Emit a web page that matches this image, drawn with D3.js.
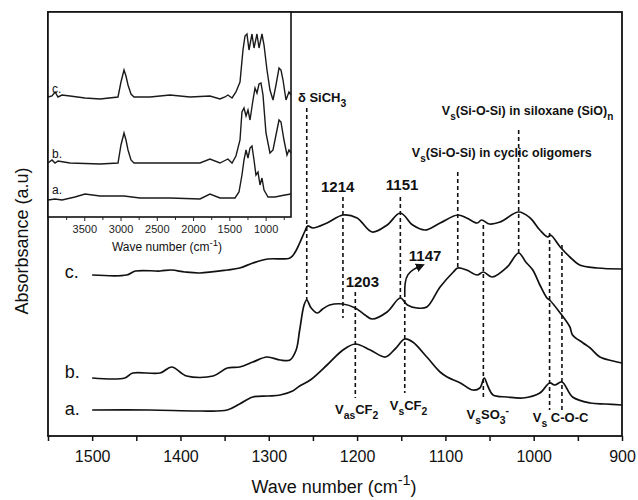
<!DOCTYPE html>
<html>
<head>
<meta charset="utf-8">
<script src="https://cdn.jsdelivr.net/npm/d3@7.9.0/dist/d3.min.js"></script>
<style>
  body { margin: 0; background: #fff; }
  svg { font-family: Arial, "Liberation Sans", sans-serif; }
</style>
</head>
<body>
<svg id="chart" width="638" height="500"></svg>
<script>
// main spectra, [wavenumber, absorbance (a.u., stacked)]
const specA = [[1500,26],[1435,26],[1378,25],[1347,26],[1333,32],[1318,39],[1301,40],[1287,41],[1273,45],[1265,50],[1253,56],[1234,71],[1216,86],[1202,92],[1185,86],[1168,79],[1157,87],[1146,97],[1137,94],[1121,79],[1106,64],[1098,59],[1083,53],[1069,46],[1061,48],[1056,58],[1052,50],[1046,41],[1030,39],[1012,38],[993,43],[982,53],[976,51],[968,54],[956,39],[936,33],[919,32],[900,31]];
const specB = [[1500,58],[1463,58],[1454,63],[1423,63],[1410,69],[1393,60],[1363,60],[1347,68],[1333,69],[1318,74],[1302,79],[1287,76],[1276,76],[1269,86],[1265,106],[1260,131],[1257,136],[1252,128],[1245,123],[1239,127],[1231,131],[1216,132],[1202,128],[1191,121],[1183,117],[1166,124],[1151,138],[1143,131],[1132,128],[1121,129],[1106,149],[1091,164],[1086,168],[1076,166],[1064,161],[1057,164],[1047,159],[1030,169],[1017,183],[1009,174],[1001,166],[993,151],[985,138],[982,136],[970,123],[959,109],[956,101],[944,93],[936,88],[925,79],[910,75],[900,73]];
const specC = [[1500,161],[1461,161],[1451,165],[1423,165],[1410,166],[1395,164],[1378,163],[1347,166],[1333,168],[1318,173],[1301,177],[1276,178],[1270,184],[1265,193],[1259,205],[1256,210],[1250,208],[1234,213],[1216,221],[1200,218],[1183,204],[1166,211],[1151,223],[1137,211],[1123,206],[1106,213],[1086,221],[1076,218],[1064,213],[1059,216],[1050,212],[1038,214],[1017,224],[1004,218],[993,206],[984,199],[981,201],[970,189],[959,179],[948,171],[928,168],[900,167]];

// inset spectra (full range)
const insetA = [[4000,17],[3903,18],[3807,17],[3628,20],[3490,23],[3283,21],[2952,21],[2732,19],[2318,19],[1905,18],[1767,23],[1629,19],[1422,19],[1367,25],[1326,42],[1298,57],[1270,67],[1243,59],[1215,69],[1188,71],[1160,57],[1133,42],[1105,45],[1077,32],[1050,39],[1022,27],[967,20],[871,20],[733,22],[650,23]];
const insetB = [[4000,54],[3945,57],[3903,54],[3862,56],[3697,54],[3283,53],[3035,54],[2994,72],[2952,84],[2925,77],[2897,67],[2856,57],[2814,54],[2318,54],[1905,54],[1767,58],[1629,54],[1520,58],[1463,54],[1409,61],[1353,77],[1326,105],[1298,109],[1270,101],[1243,107],[1215,97],[1174,117],[1146,129],[1119,124],[1091,133],[1064,134],[1036,122],[995,84],[940,64],[898,67],[857,82],[815,97],[788,95],[747,77],[705,62],[678,67],[650,64]];
const insetC = [[4000,120],[3945,121],[3903,125],[3862,120],[3807,122],[3697,121],[3490,119],[3283,118],[3035,120],[2994,135],[2952,147],[2925,141],[2897,132],[2856,123],[2814,120],[2594,120],[2318,122],[2042,120],[1767,121],[1629,118],[1560,120],[1520,122],[1463,119],[1409,125],[1353,135],[1312,167],[1284,181],[1257,183],[1229,167],[1188,183],[1160,169],[1119,183],[1091,169],[1050,183],[1022,172],[981,147],[940,127],[898,117],[857,132],[815,149],[788,147],[760,137],[719,117],[678,125],[650,122]];

const mainTicks = [1500, 1400, 1300, 1200, 1100, 1000, 900];
const mainMinor = [1550, 1450, 1350, 1250, 1150, 1050, 950];
const insetTicks = [3500, 3000, 2500, 2000, 1500, 1000];
const insetMinor = [3750, 3250, 2750, 2250, 1750, 1250, 750];

// dashed marker lines: [wavenumber, top, bottom]
const markers = [[1257,328,136],[1216,239,118],[1151,239,138],[1086,264,168],[1017,306,183],[1202,144,38],[1146,143,43],[1057,211,38],[982,203,26],[968,191,26]];
const arrowPts = [[1146,143],[1146,153],[1143,162],[1136,167],[1128,170]];

const svg = d3.select('#chart');
const plot = { left: 48, right: 622, top: 12, bottom: 436 };

const x = d3.scaleLinear().domain([1550, 900]).range([plot.left, plot.right]);
const y = d3.scaleLinear().domain([0, 424]).range([plot.bottom, plot.top]);

function richText(g, px, py, parts, size, anchor, weight) {
  const t = g.append('text').attr('x', px).attr('y', py)
    .attr('font-size', size).attr('text-anchor', anchor || 'start')
    .attr('font-weight', weight || 'normal').attr('fill', '#111');
  let shift = 0;
  parts.forEach(([s, kind]) => {
    const target = kind === 'sub' ? size * 0.42 : kind === 'sup' ? -size * 0.42 : 0;
    t.append('tspan').attr('dy', target - shift)
      .attr('font-size', kind ? size * 0.8 : size).text(s);
    shift = target;
  });
  return t;
}

const line = d3.line().x(d => x(d[0])).y(d => y(d[1])).curve(d3.curveCatmullRom.alpha(0.5));

// curves
[specA, specB, specC].forEach(s => {
  svg.append('path').datum(s).attr('d', line)
    .attr('fill', 'none').attr('stroke', '#111').attr('stroke-width', 1.7);
});

// dashed markers
svg.append('g').selectAll('line').data(markers).join('line')
  .attr('x1', d => x(d[0])).attr('x2', d => x(d[0]))
  .attr('y1', d => y(d[1])).attr('y2', d => y(d[2]))
  .attr('stroke', '#111').attr('stroke-width', 1.6).attr('stroke-dasharray', '4,3');

// arrow 1147
svg.append('defs').append('marker').attr('id', 'arr')
  .attr('viewBox', '0 0 10 10').attr('refX', 5).attr('refY', 5)
  .attr('markerWidth', 9).attr('markerHeight', 9).attr('markerUnits', 'userSpaceOnUse')
  .attr('orient', 'auto')
  .append('path').attr('d', 'M0,0 L10,5 L0,10 z').attr('fill', '#111');
svg.append('path').datum(arrowPts)
  .attr('d', d3.line().x(d => x(d[0])).y(d => y(d[1])).curve(d3.curveBasis))
  .attr('fill', 'none').attr('stroke', '#111').attr('stroke-width', 1.6)
  .attr('marker-end', 'url(#arr)');

// annotations
const ann = svg.append('g');
richText(ann, x(1267), y(334), [['δ ', null], ['SiCH', null], ['3', 'sub']], 13, 'start', 'bold');
richText(ann, x(1104), y(321), [['V', null], ['s', 'sub'], ['(Si-O-Si) in siloxane (SiO)', null], ['n', 'sub']], 12.5, 'start', 'bold');
richText(ann, x(1138), y(279), [['V', null], ['s', 'sub'], ['(Si-O-Si) in cyclic oligomers', null]], 12.5, 'start', 'bold');
richText(ann, x(1222), y(244), [['1214', null]], 15, 'middle', 'bold');
richText(ann, x(1149), y(246), [['1151', null]], 15, 'middle', 'bold');
richText(ann, x(1194), y(149), [['1203', null]], 15, 'middle', 'bold');
richText(ann, x(1123), y(175), [['1147', null]], 15, 'middle', 'bold');
richText(ann, x(1225), y(22), [['V', null], ['as', 'sub'], ['CF', null], ['2', 'sub']], 13, 'start', 'bold');
richText(ann, x(1163), y(26), [['V', null], ['s', 'sub'], ['CF', null], ['2', 'sub']], 13, 'start', 'bold');
richText(ann, x(1076), y(17), [['V', null], ['s', 'sub'], ['SO', null], ['3', 'sub'], ['-', 'sup']], 13, 'start', 'bold');
richText(ann, x(1001), y(14), [['V', null], ['s', 'sub'], [' C-O-C', null]], 13, 'start', 'bold');

// curve labels
[['c.', 158], ['b.', 58], ['a.', 21]].forEach(([t, h]) => {
  richText(svg, x(1531), y(h), [[t, null]], 18, 'start');
});

// main axis
const ax = svg.append('g').attr('transform', `translate(0,${plot.bottom})`);
ax.call(d3.axisBottom(x).tickValues(mainTicks).tickSize(5).tickPadding(10).tickFormat(d3.format('d')));
ax.append('g').call(d3.axisBottom(x).tickValues(mainMinor).tickSize(5).tickFormat(''));
ax.selectAll('.domain').remove();
ax.selectAll('line').attr('stroke', '#111').attr('stroke-width', 1.5);
ax.selectAll('text').attr('font-size', 16).attr('fill', '#111').attr('font-family', 'Arial, "Liberation Sans", sans-serif');

svg.append('rect').attr('x', plot.left).attr('y', plot.top)
  .attr('width', plot.right - plot.left).attr('height', plot.bottom - plot.top)
  .attr('fill', 'none').attr('stroke', '#111').attr('stroke-width', 1.8);

richText(svg, 334, 493, [['Wave number (cm', null], ['-1', 'sup'], [')', null]], 18, 'middle');
svg.append('text').attr('transform', 'translate(28,241) rotate(-90)')
  .attr('text-anchor', 'middle').attr('font-size', 18).attr('fill', '#111')
  .text('Absorbsance (a.u)');

// inset
const ins = { left: 48, right: 291, top: 12, bottom: 217 };
const xi = d3.scaleLinear().domain([4000, 650]).range([ins.left, ins.right]);
const yi = d3.scaleLinear().domain([0, 205]).range([ins.bottom, ins.top]);
const gi = svg.append('g');
gi.append('rect').attr('x', ins.left).attr('y', ins.top)
  .attr('width', ins.right - ins.left).attr('height', ins.bottom - ins.top)
  .attr('fill', '#fff').attr('stroke', '#111').attr('stroke-width', 1.6);
const lineI = d3.line().x(d => xi(d[0])).y(d => yi(d[1])).curve(d3.curveLinear);
[insetA, insetB, insetC].forEach(s => {
  gi.append('path').datum(s).attr('d', lineI)
    .attr('fill', 'none').attr('stroke', '#1a1a1a').attr('stroke-width', 1.4);
});
[['c.', 124], ['b.', 59], ['a.', 23]].forEach(([t, h]) => {
  richText(gi, xi(3945), yi(h), [[t, null]], 12, 'start');
});
const axi = gi.append('g').attr('transform', `translate(0,${ins.bottom})`);
axi.call(d3.axisBottom(xi).tickValues(insetTicks).tickSize(4).tickPadding(4).tickFormat(d3.format('d')));
axi.append('g').call(d3.axisBottom(xi).tickValues(insetMinor).tickSize(3).tickFormat(''));
axi.selectAll('.domain').remove();
axi.selectAll('line').attr('stroke', '#222');
axi.selectAll('text').attr('font-size', 11).attr('fill', '#222').attr('font-family', 'Arial, "Liberation Sans", sans-serif');
richText(gi, 167, 251, [['Wave number (cm', null], ['-1', 'sup'], [')', null]], 12, 'middle');
</script>
</body>
</html>
